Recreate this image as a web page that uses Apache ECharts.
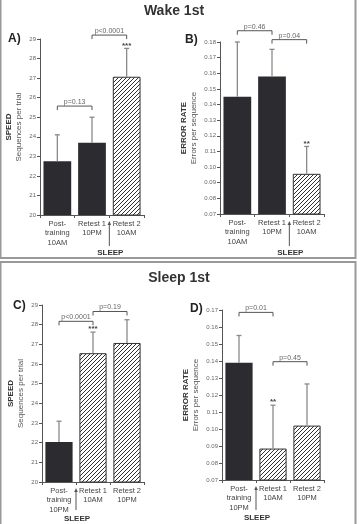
<!DOCTYPE html>
<html>
<head>
<meta charset="utf-8">
<script src="https://cdn.jsdelivr.net/npm/echarts@6/dist/echarts.min.js"></script>
<style>
html, body { margin: 0; padding: 0; background: #fff; }
#main { width: 360px; height: 524px; }
</style>
</head>
<body>
<div id="main"></div>
<script>
// ---------------- data ----------------
var catsWake = ['Post-\ntraining\n10AM', 'Retest 1\n10PM', 'Retest 2\n10AM'];
var catsSleep = ['Post-\ntraining\n10PM', 'Retest 1\n10AM', 'Retest 2\n10PM'];

// A) wake first, speed
var speedWake = [22.75, 23.7, 27.07];
var speedWakeErr = [1.35, 1.3, 1.45];
// B) wake first, error rate
var errorWake = [0.145, 0.158, 0.0957];
var errorWakeErr = [0.035, 0.0173, 0.0175];
// C) sleep first, speed
var speedSleep = [22.03, 26.55, 27.07];
var speedSleepErr = [1.06, 1.07, 1.18];
// D) sleep first, error rate
var errorSleep = [0.139, 0.0885, 0.102];
var errorSleepErr = [0.016, 0.0255, 0.0245];

// hatched = after sleep
var hatchWake = [false, false, true];
var hatchSleep = [false, true, true];

var starsA = ['', '', '***'];
var starsB = ['', '', '**'];
var starsC = ['', '***', ''];
var starsD = ['', '**', ''];

// brackets: [from, to, y, text]
var bracketsA = [[0, 1, 25.57, 'p=0.13'], [1, 2, 29.2, 'p<0.0001']];
var bracketsB = [[0, 1, 0.1872, 'p=0.46'], [1, 2, 0.1815, 'p=0.04']];
var bracketsC = [[0, 1, 28.17, 'p<0.0001'], [1, 2, 28.67, 'p=0.19']];
var bracketsD = [[0, 1, 0.1686, 'p=0.01'], [1, 2, 0.1396, 'p=0.45']];

var speedTicks = { min: 20, max: 29, interval: 1 };
var errTicksWake = { min: 0.07, max: 0.18, interval: 0.01 };
var errTicksSleep = { min: 0.07, max: 0.17, interval: 0.01 };

// ---------------- style ----------------
var FONT = 'Liberation Sans';
var DARK = '#2b2b30';

// diagonal hatch pattern
var hatch = document.createElement('canvas');
hatch.width = 4; hatch.height = 4;
var hc = hatch.getContext('2d');
hc.fillStyle = '#fff';
hc.fillRect(0, 0, 4, 4);
hc.strokeStyle = '#333';
hc.lineWidth = 1;
hc.beginPath();
hc.moveTo(-1, 5); hc.lineTo(5, -1);
hc.moveTo(-1, 1); hc.lineTo(1, -1);
hc.moveTo(3, 5); hc.lineTo(5, 3);
hc.stroke();

// grids (px)
var grids = [
    { left: 40, top: 39, width: 104, height: 176 },
    { left: 220, top: 42, width: 104, height: 172 },
    { left: 42, top: 305, width: 102, height: 177 },
    { left: 222, top: 310, width: 102, height: 170 }
];

function xAxisOf(idx, cats) {
    return {
        type: 'category', gridIndex: idx, data: cats,
        axisLine: { lineStyle: { color: '#555', width: 1 } },
        axisTick: { show: true, length: 3, lineStyle: { color: '#555' } },
        axisLabel: { fontSize: 7.5, lineHeight: 9.5, color: '#444', margin: 4, interval: 0, fontFamily: FONT }
    };
}

function yAxisOf(idx, ticks, title, sub, decimals) {
    return {
        type: 'value', gridIndex: idx,
        min: ticks.min, max: ticks.max, interval: ticks.interval,
        splitLine: { show: false },
        axisLine: { show: true, lineStyle: { color: '#555', width: 1 } },
        axisTick: { show: true, length: 3, lineStyle: { color: '#555' } },
        axisLabel: {
            fontSize: 6, color: '#666', margin: 4, fontFamily: FONT,
            formatter: function (v) { return v.toFixed(decimals); }
        },
        name: '{b|' + title + '}\n{n|' + sub + '}',
        nameLocation: 'middle', nameRotate: 90, nameGap: decimals ? 21 : 16,
        nameTextStyle: {
            rich: {
                b: { fontSize: 8, fontWeight: 'bold', color: '#333', fontFamily: FONT, lineHeight: 10 },
                n: { fontSize: 8, color: '#555', fontFamily: FONT, lineHeight: 10 }
            }
        }
    };
}

function barSeries(idx, vals, hatched) {
    return {
        type: 'bar', xAxisIndex: idx, yAxisIndex: idx,
        barWidth: '80%',
        data: vals.map(function (v, i) {
            return {
                value: v,
                itemStyle: hatched[i]
                    ? { color: { image: hatch, repeat: 'repeat' }, borderColor: '#333', borderWidth: 1 }
                    : { color: DARK }
            };
        }),
        z: 2
    };
}

function errSeries(idx, vals, errs, stars) {
    return {
        type: 'custom', xAxisIndex: idx, yAxisIndex: idx, z: 3, clip: false,
        data: vals.map(function (v, i) { return [i, v, errs[i]]; }),
        renderItem: function (params, api) {
            var i = api.value(0), v = api.value(1), e = api.value(2);
            var base = api.coord([i, v]);
            var top = api.coord([i, v + e]);
            var kids = [
                { type: 'line', shape: { x1: base[0], y1: base[1], x2: top[0], y2: top[1] }, style: { stroke: '#8a8a8a', lineWidth: 1.3 } },
                { type: 'line', shape: { x1: top[0] - 2.5, y1: top[1], x2: top[0] + 2.5, y2: top[1] }, style: { stroke: '#8a8a8a', lineWidth: 1.3 } }
            ];
            if (stars[i]) {
                kids.push({ type: 'text', x: top[0], y: top[1] + 1, style: { text: stars[i], align: 'center', verticalAlign: 'bottom', fill: '#444', font: 'bold 8px ' + FONT } });
            }
            return { type: 'group', children: kids };
        }
    };
}

function bracketSeries(idx, list) {
    return {
        type: 'custom', xAxisIndex: idx, yAxisIndex: idx, z: 4, clip: false,
        data: list.map(function (b) { return [b[0], b[1], b[2]]; }),
        renderItem: function (params, api) {
            var b = list[params.dataIndex];
            var p1 = api.coord([api.value(0), api.value(2)]);
            var p2 = api.coord([api.value(1), api.value(2)]);
            return {
                type: 'group', children: [
                    { type: 'polyline', shape: { points: [[p1[0], p1[1] + 4], [p1[0], p1[1]], [p2[0], p2[1]], [p2[0], p2[1] + 4]] }, style: { stroke: '#555', fill: null, lineWidth: 1 } },
                    { type: 'text', x: (p1[0] + p2[0]) / 2, y: p1[1] - 0.5, style: { text: b[3], align: 'center', verticalAlign: 'bottom', fill: '#666', font: '7px ' + FONT } }
                ]
            };
        }
    };
}

// SLEEP arrow between two categories
function sleepArrow(g, boundary, y1, y2, ty) {
    var x = g.left + g.width * boundary / 3;
    return [
        { type: 'line', shape: { x1: x, y1: y1 + 3, x2: x, y2: y2 }, style: { stroke: '#555', lineWidth: 1 } },
        { type: 'polygon', shape: { points: [[x, y1], [x - 1.8, y1 + 4], [x + 1.8, y1 + 4]] }, style: { fill: '#555' } },
        { type: 'text', x: x + 1, y: ty, style: { text: 'SLEEP', align: 'center', verticalAlign: 'middle', fill: '#333', font: 'bold 8px ' + FONT } }
    ];
}

function label(text, x, y, size) {
    return { type: 'text', x: x, y: y, style: { text: text, align: 'left', verticalAlign: 'middle', fill: '#222', font: 'bold ' + size + 'px ' + FONT } };
}

var graphics = [
    { type: 'rect', shape: { x: 0.5, y: -3, width: 355, height: 261 }, style: { fill: null, stroke: '#999', lineWidth: 2 } },
    { type: 'rect', shape: { x: 0.5, y: 262, width: 355, height: 266 }, style: { fill: null, stroke: '#999', lineWidth: 2 } },
    { type: 'text', x: 174, y: 11, style: { text: 'Wake 1st', align: 'center', verticalAlign: 'middle', fill: '#333', font: 'bold 14px ' + FONT } },
    { type: 'text', x: 179, y: 278, style: { text: 'Sleep 1st', align: 'center', verticalAlign: 'middle', fill: '#333', font: 'bold 14px ' + FONT } },
    label('A)', 8, 39, 12),
    label('B)', 185, 40, 12),
    label('C)', 13, 306, 12),
    label('D)', 190, 309, 12)
]
    .concat(sleepArrow(grids[0], 2, 221, 246, 253))
    .concat(sleepArrow(grids[1], 2, 221, 246, 253))
    .concat(sleepArrow(grids[2], 1, 488, 510, 519))
    .concat(sleepArrow(grids[3], 1, 486, 510, 518));

var myChart = echarts.init(document.getElementById('main'));
var option = {
    animation: false,
    textStyle: { fontFamily: FONT },
    grid: grids,
    xAxis: [xAxisOf(0, catsWake), xAxisOf(1, catsWake), xAxisOf(2, catsSleep), xAxisOf(3, catsSleep)],
    yAxis: [
        yAxisOf(0, speedTicks, 'SPEED', 'Sequences per trial', 0),
        yAxisOf(1, errTicksWake, 'ERROR RATE', 'Errors per sequence', 2),
        yAxisOf(2, speedTicks, 'SPEED', 'Sequences per trial', 0),
        yAxisOf(3, errTicksSleep, 'ERROR RATE', 'Errors per sequence', 2)
    ],
    series: [
        barSeries(0, speedWake, hatchWake),
        errSeries(0, speedWake, speedWakeErr, starsA),
        bracketSeries(0, bracketsA),
        barSeries(1, errorWake, hatchWake),
        errSeries(1, errorWake, errorWakeErr, starsB),
        bracketSeries(1, bracketsB),
        barSeries(2, speedSleep, hatchSleep),
        errSeries(2, speedSleep, speedSleepErr, starsC),
        bracketSeries(2, bracketsC),
        barSeries(3, errorSleep, hatchSleep),
        errSeries(3, errorSleep, errorSleepErr, starsD),
        bracketSeries(3, bracketsD)
    ],
    graphic: graphics
};
myChart.setOption(option);
</script>
</body>
</html>
